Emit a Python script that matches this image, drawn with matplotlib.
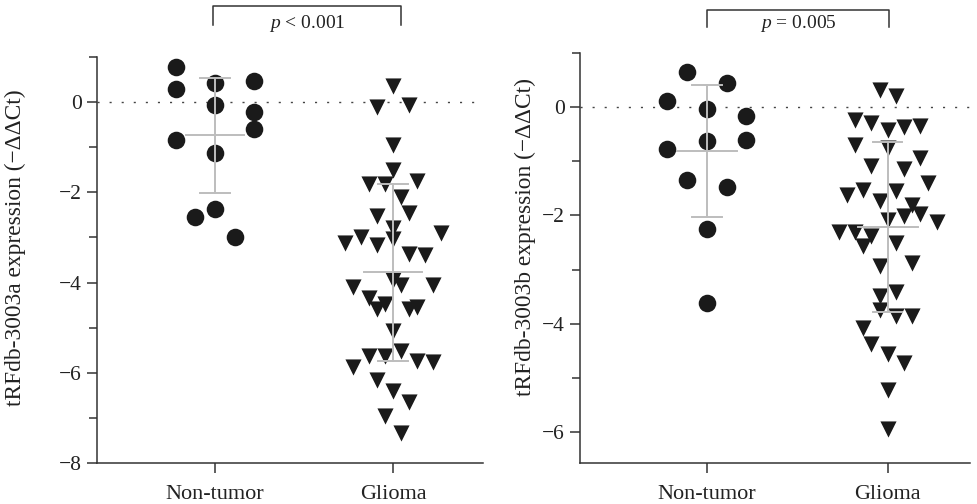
import numpy as np
import matplotlib.pyplot as plt

plt.rcParams['font.family'] = ['Liberation Serif', 'DejaVu Serif']
plt.rcParams['mathtext.fontset'] = 'custom'
plt.rcParams['mathtext.rm'] = 'Liberation Serif'
plt.rcParams['mathtext.it'] = 'Liberation Serif:italic'

groups = ['Non-tumor', 'Glioma']

# tRFdb-3003a (-ddCt)
a_normal = [0.77, 0.28, 0.42, 0.46, -0.07, -0.21, -0.60, -0.83, -1.13, -2.37, -2.54, -2.99]
a_normal_col = [-2, -2, 0, 2, 0, 2, 2, -2, 0, 0, -1, 1]
a_glioma = [0.35, -0.10, -0.07, -0.94, -1.51, -1.81, -1.81, -1.74, -2.11, -2.53,
            -2.46, -2.78, -2.99, -3.13, -3.16, -3.03, -2.90, -3.36, -3.40, -3.95,
            -4.06, -4.10, -4.06, -4.34, -4.47, -4.58, -4.58, -4.55, -5.08, -5.62,
            -5.62, -5.52, -5.73, -5.76, -5.88, -6.17, -6.41, -6.65, -6.95, -7.34]
a_glioma_col = [0, -2, 2, 0, 0, -3, -1, 3, 1, -2,
                2, 0, -4, -6, -2, 0, 6, 2, 4, 0,
                1, -5, 5, -3, -1, -2, 2, 3, 0, -3,
                -1, 1, 3, 5, -5, -2, 0, 2, -1, 1]

# tRFdb-3003b (-ddCt)
b_normal = [0.64, 0.44, 0.12, -0.04, -0.17, -0.62, -0.60, -0.77, -1.34, -1.48, -2.25, -3.61]
b_normal_col = [-1, 1, -2, 0, 2, 0, 2, -2, -1, 1, 0, 0]
b_glioma = [0.31, 0.20, -0.23, -0.30, -0.43, -0.36, -0.35, -0.70, -0.76, -1.08,
            -1.14, -0.94, -1.40, -1.62, -1.53, -1.73, -1.54, -1.80, -2.01, -1.97,
            -2.12, -2.09, -2.30, -2.31, -2.37, -2.56, -2.50, -2.93, -2.87, -3.48,
            -3.42, -3.74, -3.85, -3.85, -4.08, -4.37, -4.55, -4.72, -5.23, -5.94]
b_glioma_col = [-1, 1, -4, -2, 0, 2, 4, -4, 0, -2,
                2, 4, 5, -5, -3, -1, 1, 3, 2, 4,
                6, 0, -6, -4, -2, -3, 1, -1, 3, -1,
                1, -1, 1, 3, -3, -2, 0, 2, 0, 0]

ink = '#1a1a1a'
bar_c = '#bdbdbd'
axis_c = '#333333'
text_c = '#222222'


def panel(ax, normal, ncol, glioma, gcol, ylim, yticks, yminor, xlim, ylabel, lab_xy):
    ax.scatter(0 + 0.11 * np.array(ncol), normal, s=160, marker='o',
               color=ink, linewidths=0, zorder=3)
    ax.scatter(1 + 0.045 * np.array(gcol), glioma, s=135, marker='v',
               color=ink, linewidths=0, zorder=3)
    # mean with SD whiskers
    for x, vals in [(0, normal), (1, glioma)]:
        m = np.mean(vals)
        sd = np.std(vals, ddof=1)
        ax.plot([x - 0.165, x + 0.165], [m, m], color=bar_c, lw=1.4, zorder=4)
        ax.plot([x, x], [m - sd, m + sd], color=bar_c, lw=1.4, zorder=4)
        for y in (m - sd, m + sd):
            ax.plot([x - 0.082, x + 0.082], [y, y], color=bar_c, lw=1.4, zorder=4)
    ax.axhline(0, color='#444444', lw=1.0, linestyle=(0, (1.5, 7.2)), zorder=1)
    ax.set_xlim(*xlim)
    ax.set_ylim(*ylim)
    ax.set_xticks([0, 1])
    ax.set_xticklabels(groups, fontsize=16, color=text_c)
    ax.set_yticks(yticks)
    ax.set_yticklabels([str(t).replace('-', '\u2212') for t in yticks],
                       fontsize=15.5, color=text_c)
    ax.set_yticks(yminor, minor=True)
    ax.tick_params(axis='both', which='major', length=7, width=1.1, color=axis_c)
    ax.tick_params(axis='x', which='major', pad=9)
    ax.tick_params(axis='y', which='major', pad=4)
    ax.tick_params(axis='y', which='minor', length=5.5, width=1.1, color=axis_c)
    for s in ('top', 'right'):
        ax.spines[s].set_visible(False)
    for s in ('left', 'bottom'):
        ax.spines[s].set_linewidth(1.1)
        ax.spines[s].set_color(axis_c)
    ax.set_ylabel(ylabel, fontsize=16.8, color=text_c)
    ax.yaxis.set_label_coords(*lab_xy)


def bracket(ax, x0, x1, ytop, ybot, ytext, label):
    ax.plot([x0, x0, x1, x1], [ybot, ytop, ytop, ybot], color=axis_c, lw=1.1,
            clip_on=False)
    ax.text((x0 + x1) / 2, ytext, label, ha='center', va='center', fontsize=14,
            color=text_c, clip_on=False)


fig = plt.figure(figsize=(9.77, 5.04), dpi=100)
ax1 = fig.add_axes([97 / 977, 41 / 504, 386 / 977, 406 / 504])
ax2 = fig.add_axes([580 / 977, 41 / 504, 390 / 977, 410 / 504])

panel(ax1, a_normal, a_normal_col, a_glioma, a_glioma_col, (-8, 1),
      [0, -2, -4, -6, -8], [1, -1, -3, -5, -7], (-0.663, 1.506),
      'tRFdb-3003a expression (\u2212\u0394\u0394Ct)', (-0.184, 0.53))
panel(ax2, b_normal, b_normal_col, b_glioma, b_glioma_col, (-6.57, 1),
      [0, -2, -4, -6], [1, -1, -3, -5], (-0.70, 1.455),
      'tRFdb-3003b expression (\u2212\u0394\u0394Ct)', (-0.113, 0.55))

bracket(ax1, -0.01, 1.045, 2.14, 1.72, 1.74, '$p$ < 0.001')
bracket(ax2, 0.0, 1.01, 1.80, 1.48, 1.55, '$p$ = 0.005')

fig.savefig('out.png', dpi=100)
